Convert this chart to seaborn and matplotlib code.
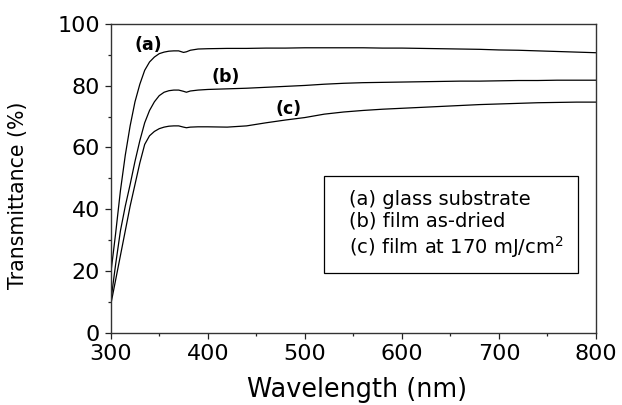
import matplotlib
matplotlib.use("Agg")
import matplotlib.pyplot as plt
from matplotlib.lines import Line2D
import numpy as np
import pandas as pd
import seaborn as sns

# Wavelength grid (nm)
wavelength = [300, 305, 310, 315, 320, 325, 330, 335, 340, 345, 350, 355, 360,
              365, 370, 375, 378, 382, 390, 400, 420, 440, 460, 480, 500, 520,
              540, 560, 580, 600, 620, 640, 660, 680, 700, 720, 740, 760, 780, 800]

# Transmittance (%) of each sample
glass_substrate = [19, 32, 46, 57.5, 67, 74.8, 80.5, 85, 87.7, 89.3, 90.4, 90.9, 91.2,
                   91.3, 91.3, 90.8, 91.0, 91.5, 91.9, 92.0, 92.1, 92.1, 92.2, 92.2, 92.3, 92.3,
                   92.3, 92.3, 92.2, 92.2, 92.1, 92.0, 91.9, 91.8, 91.6, 91.5, 91.3, 91.1, 90.9, 90.7]
film_as_dried = [10, 22, 33, 41, 48, 55.5, 62.2, 68, 72, 74.8, 76.8, 77.9, 78.4,
                 78.6, 78.6, 78.2, 77.9, 78.3, 78.6, 78.8, 79.0, 79.2, 79.5, 79.8, 80.1, 80.5,
                 80.8, 81.0, 81.1, 81.2, 81.3, 81.4, 81.5, 81.5, 81.6, 81.7, 81.7, 81.8, 81.8, 81.8]
film_170 = [9, 17, 25, 33, 41, 48, 55, 61, 63.8, 65.2, 66.1, 66.6, 66.9,
            67.0, 67.0, 66.6, 66.4, 66.6, 66.7, 66.7, 66.6, 67.0, 68.0, 68.9, 69.7, 70.8,
            71.5, 72.0, 72.4, 72.7, 73.0, 73.3, 73.6, 73.9, 74.1, 74.3, 74.5, 74.6, 74.7, 74.7]

series_keys = ["(a)", "(b)", "(c)"]
legend_labels = ["(a) glass substrate", "(b) film as-dried", r"(c) film at 170 mJ/cm$^2$"]
curve_tags = ["(a)", "(b)", "(c)"]
tag_x = [338.5, 418, 483]
tag_y = [93.3, 82.9, 72.4]

x_ticks = [300, 400, 500, 600, 700, 800]
y_ticks = [0, 20, 40, 60, 80, 100]

sns.set_theme(style="ticks")
plt.rcParams["font.family"] = ["DejaVu Sans"]
plt.rcParams["mathtext.fontset"] = "dejavusans"
plt.rcParams["text.color"] = "black"
plt.rcParams["axes.labelcolor"] = "black"

frames = []
for key, vals in zip(series_keys, [glass_substrate, film_as_dried, film_170]):
    frames.append(pd.DataFrame({"Wavelength": wavelength, "T": vals, "sample": key}))
df = pd.concat(frames, ignore_index=True)

fig = plt.figure(figsize=(6.22, 4.05), dpi=100)
ax = fig.add_axes([0.178, 0.1785, 0.7802, 0.7622])

sns.lineplot(data=df, x="Wavelength", y="T", hue="sample",
             palette={k: "black" for k in series_keys}, linewidth=0.9,
             legend=False, ax=ax, sort=False, estimator=None)

ax.set_xlim(300, 800)
ax.set_ylim(0, 100)
ax.set_xticks(x_ticks)
ax.set_yticks(y_ticks)
ax.set_xticks(np.arange(350, 800, 100), minor=True)
ax.set_yticks(np.arange(10, 100, 20), minor=True)
ax.tick_params(axis="both", which="major", direction="out", length=4.3, width=0.9,
               labelsize=16, colors="#222222", labelcolor="black", pad=3.5)
ax.tick_params(axis="both", which="minor", direction="out", length=2.2, width=0.9,
               colors="#222222")
for side in ["top", "right", "bottom", "left"]:
    ax.spines[side].set_visible(True)
    ax.spines[side].set_color("#333333")
    ax.spines[side].set_linewidth(1.0)

ax.set_xlabel("Wavelength (nm)", fontsize=18.4, color="black")
ax.set_ylabel("Transmittance (%)", fontsize=14.8, color="black")
ax.xaxis.set_label_coords(0.5075, -0.145)
ax.yaxis.set_label_coords(-0.170, 0.446)

for tag, tx, ty in zip(curve_tags, tag_x, tag_y):
    ax.text(tx, ty, tag, fontsize=12.5, fontweight="bold", ha="center", va="center",
            color="black")

handles = [Line2D([], [], linestyle="none") for _ in legend_labels]
leg = ax.legend(handles, legend_labels, loc="upper left",
                bbox_to_anchor=(0.4395, 0.507), borderaxespad=0,
                handlelength=0, handletextpad=0.6, fontsize=14,
                frameon=True, fancybox=False, edgecolor="black",
                framealpha=1, borderpad=0.7, labelspacing=0.15)
leg.get_frame().set_linewidth(0.9)
for t in leg.get_texts():
    t.set_color("black")

fig.savefig("out.png", dpi=100)
